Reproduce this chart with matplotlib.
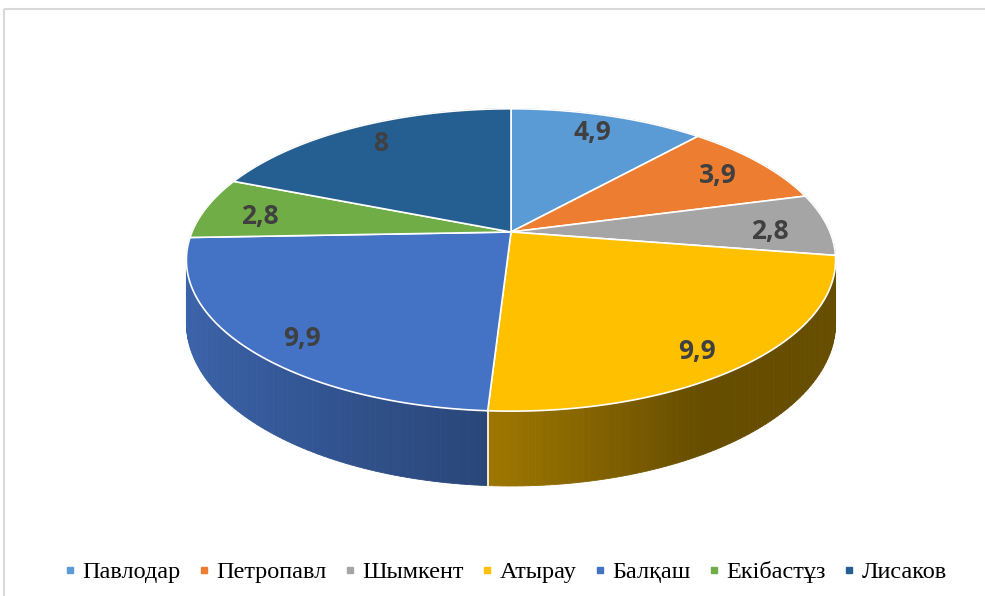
import numpy as np
import matplotlib.pyplot as plt
from matplotlib.patches import Polygon, Rectangle
from matplotlib.lines import Line2D
from matplotlib.colors import to_rgb

cities = ['Павлодар', 'Петропавл', 'Шымкент', 'Атырау', 'Балқаш', 'Екібастұз', 'Лисаков']
values = [4.9, 3.9, 2.8, 9.9, 9.9, 2.8, 8]
colors = ['#5B9BD5', '#ED7D31', '#A5A5A5', '#FFC000', '#4472C4', '#70AD47', '#255E91']

# geometry of the tilted disc (pixels)
cx, cy = 511, 232
rx, ry = 319, 146
persp = 0.185
depth = 61


def proj(t, r=1.0, down=0.0):
    # t: angle clockwise from 12 o'clock
    u, v = r * np.sin(t), r * np.cos(t)
    s = 1.0 / (1 + persp * v)
    return cx + rx * u * s, cy - ry * v * s + down * s


def shade(u):
    # lit from the left
    if u < 0:
        return 0.6 - 0.28 * u
    return max(0.4, 0.6 - 0.4 * u)


fig = plt.figure(figsize=(9.85, 5.96), dpi=100)
ax = fig.add_axes([0, 0, 1, 1])
ax.set_xlim(0, 985)
ax.set_ylim(596, 0)
ax.axis('off')

edges = 2 * np.pi * np.cumsum([0] + values) / sum(values)

# side walls, back to front
strips = []
for i in range(len(values)):
    a0, a1 = edges[i], edges[i + 1]
    n = max(int(np.degrees(a1 - a0)), 2)
    ts = np.linspace(a0, a1, n + 1)
    for t0, t1 in zip(ts[:-1], ts[1:]):
        strips.append((np.cos((t0 + t1) / 2), i, t0, t1))
strips.sort(key=lambda s: -s[0])
for v, i, t0, t1 in strips:
    col = np.array(to_rgb(colors[i])) * shade(np.sin((t0 + t1) / 2))
    pts = [proj(t0), proj(t1), proj(t1, down=depth), proj(t0, down=depth)]
    ax.add_patch(Polygon(pts, closed=True, facecolor=col, edgecolor=col, lw=0.6, zorder=1))

for t in edges[:-1]:
    if np.cos(t) < -0.3:
        x0, y0 = proj(t)
        x1, y1 = proj(t, down=depth)
        ax.plot([x0, x1], [y0, y1], color='white', lw=1.2, zorder=2)

# top faces
for i in range(len(values)):
    ts = np.linspace(edges[i], edges[i + 1], 120)
    xs, ys = proj(ts)
    pts = [(cx, cy)] + list(zip(xs, ys))
    ax.add_patch(Polygon(pts, closed=True, facecolor=colors[i], edgecolor='white', lw=1.2, zorder=3))

    tm = (edges[i] + edges[i + 1]) / 2
    lx, ly = proj(tm, 0.82, 6 - 8 * np.cos(tm))
    ax.text(lx, ly, f'{values[i]:g}'.replace('.', ','), ha='center', va='center',
            fontsize=19, fontweight='bold', color='#404040', family='Open Sans', zorder=4)

# chart border
ax.add_patch(Rectangle((3.5, 8.5), 1000, 600, fill=False, edgecolor='#D9D9D9', lw=1.5, zorder=0))

handles = [Line2D([], [], marker='s', color=c, linestyle='none', markersize=5) for c in colors]
fig.legend(handles, cities, loc='center', bbox_to_anchor=(505.5 / 985, 1 - 572 / 596), ncol=7,
           frameon=False, prop=dict(family='Liberation Serif', size=17.5),
           handlelength=0.5, handletextpad=0.25, columnspacing=0.72, borderpad=0)

fig.savefig('out.png', dpi=100)
